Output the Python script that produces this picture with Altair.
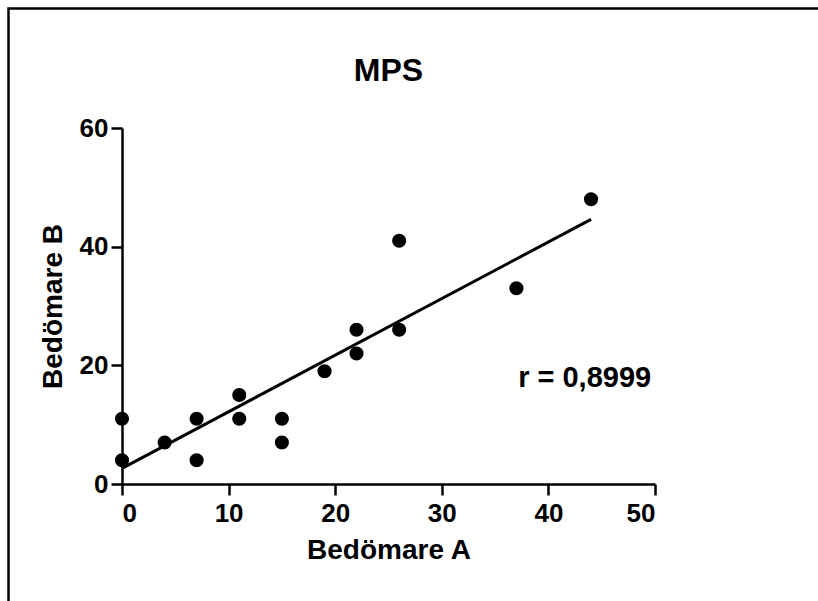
import altair as alt
import pandas as pd

# data
rater_a = [0, 0, 4, 7, 7, 11, 11, 15, 15, 19, 22, 22, 26, 26, 37, 44]
rater_b = [11, 4, 7, 11, 4, 15, 11, 11, 7, 19, 26, 22, 41, 26, 33, 48]
x_ticks = [0, 10, 20, 30, 40, 50]
y_ticks = [0, 20, 40, 60]
r_text = ["r = 0,8999"]
r_x = [43.4]
r_y = [16.3]

FONT = "Liberation Sans"

df = pd.DataFrame({"a": rater_a, "b": rater_b})
ann = pd.DataFrame({"label": r_text, "a": r_x, "b": r_y})

xs = alt.Scale(domain=[0, 50], nice=False, zero=True)
ys = alt.Scale(domain=[0, 60], nice=False, zero=True)

x_axis = alt.Axis(values=x_ticks, title="Bedömare A", grid=False,
                  domainColor="black", domainWidth=2.5, tickColor="black",
                  tickWidth=2.5, tickSize=11, labelFont=FONT, labelFontSize=26,
                  labelFontWeight="bold", labelColor="black", labelPadding=5,
                  titleFont=FONT, titleFontSize=28, titleFontWeight="bold",
                  titleColor="black", titleBaseline="alphabetic", titleY=74)
y_axis = alt.Axis(values=y_ticks, title="Bedömare B", grid=False,
                  domainColor="black", domainWidth=2.5, tickColor="black",
                  tickWidth=2.5, tickSize=11, labelFont=FONT, labelFontSize=26,
                  labelFontWeight="bold", labelColor="black", labelPadding=3,
                  titleFont=FONT, titleFontSize=28, titleFontWeight="bold",
                  titleColor="black", titleBaseline="alphabetic", titleX=-61)

points = alt.Chart(df).mark_circle(size=200, color="black", opacity=1).encode(
    x=alt.X("a:Q", scale=xs, axis=x_axis),
    y=alt.Y("b:Q", scale=ys, axis=y_axis),
)

fit = alt.Chart(df).transform_regression("a", "b").mark_line(
    color="black", strokeWidth=3
).encode(x=alt.X("a:Q", scale=xs), y=alt.Y("b:Q", scale=ys))

label = alt.Chart(ann).mark_text(
    font=FONT, fontSize=29, fontWeight="bold", color="black",
    align="center", baseline="alphabetic"
).encode(x=alt.X("a:Q", scale=xs), y=alt.Y("b:Q", scale=ys), text="label:N")

frame = alt.Chart(ann).mark_rect(
    fillOpacity=0, stroke="black", strokeWidth=2.5
).encode(x=alt.value(-113.5), x2=alt.value(900), y=alt.value(-119.5), y2=alt.value(700))

chart = alt.layer(frame, fit, points, label).properties(
    width=533, height=356,
    title=alt.TitleParams("MPS", font=FONT, fontSize=32, fontWeight="bold",
                          color="black", anchor="middle", frame="group",
                          baseline="alphabetic", offset=32, dy=138),
    autosize=alt.AutoSizeParams(type="none"),
    padding={"left": 122, "top": 128, "right": 163, "bottom": 117},
    background="white",
).configure_view(stroke=None)

chart.save("out.html", embed_options={"renderer": "svg", "actions": False})
